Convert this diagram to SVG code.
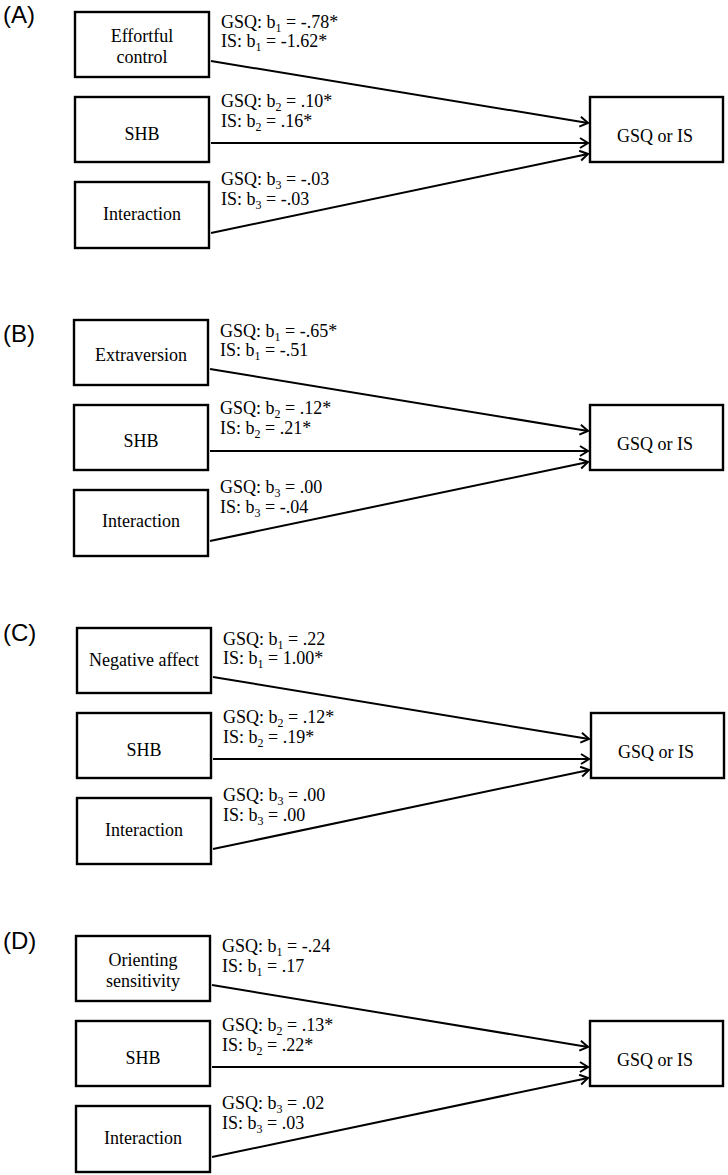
<svg xmlns="http://www.w3.org/2000/svg" width="728" height="1175" viewBox="0 0 728 1175">
<style>
.box{fill:#fff;stroke:#000;stroke-width:2.4}
.nt{font-family:"Liberation Serif","Times New Roman",serif;font-size:18px;fill:#000;text-anchor:middle}
.lb{font-family:"Liberation Serif","Times New Roman",serif;font-size:18px;fill:#000}
.sub{font-size:12px}
.pl{font-family:"Liberation Sans",Arial,sans-serif;font-size:24px;fill:#000}
.cn{stroke:#000;stroke-width:2;fill:none;marker-end:url(#ah)}
</style>
<defs>
<marker id="ah" markerUnits="userSpaceOnUse" markerWidth="14" markerHeight="14" refX="10" refY="6" orient="auto">
<path d="M2,1 L10,6 L2,11" fill="none" stroke="#000" stroke-width="2"/>
</marker>
</defs>
<rect width="728" height="1175" fill="#fff"/>

<!-- Panel labels -->
<text class="pl" x="3" y="23">(A)</text>
<text class="pl" x="3" y="342">(B)</text>
<text class="pl" x="3" y="641">(C)</text>
<text class="pl" x="3" y="949">(D)</text>

<!-- Connectors -->
<g id="connectors">
<line class="cn" x1="211" y1="61" x2="588" y2="123"/>
<line class="cn" x1="211" y1="143" x2="588" y2="143"/>
<line class="cn" x1="211" y1="233" x2="588" y2="154"/>
<line class="cn" x1="210" y1="369" x2="588" y2="431"/>
<line class="cn" x1="210" y1="451" x2="588" y2="451"/>
<line class="cn" x1="210" y1="541" x2="588" y2="462"/>
<line class="cn" x1="213" y1="677" x2="589" y2="739"/>
<line class="cn" x1="213" y1="759" x2="589" y2="759"/>
<line class="cn" x1="213" y1="849" x2="589" y2="770"/>
<line class="cn" x1="212" y1="985" x2="588" y2="1047"/>
<line class="cn" x1="212" y1="1067" x2="588" y2="1067"/>
<line class="cn" x1="212" y1="1157" x2="588" y2="1078"/>
</g>

<!-- Panel A -->
<g id="A-effortful">
<rect class="box" x="75" y="12" width="134" height="65"/>
<text class="nt" x="142" y="41.5">Effortful</text>
<text class="nt" x="142" y="63">control</text>
</g>
<g id="A-shb">
<rect class="box" x="75" y="97" width="134" height="65"/>
<text class="nt" x="142" y="140">SHB</text>
</g>
<g id="A-interaction">
<rect class="box" x="75" y="182" width="134" height="66"/>
<text class="nt" x="142" y="220">Interaction</text>
</g>
<g id="A-outcome">
<rect class="box" x="590" y="97" width="133" height="65"/>
<text class="nt" x="655" y="141.5">GSQ or IS</text>
</g>
<g id="A-labels">
<text class="lb"><tspan x="221" y="28">GSQ: b</tspan><tspan class="sub" dy="4">1</tspan><tspan dy="-4"> = -.78*</tspan><tspan x="221" y="47">IS: b</tspan><tspan class="sub" dy="4">1</tspan><tspan dy="-4"> = -1.62*</tspan></text>
<text class="lb"><tspan x="221" y="107">GSQ: b</tspan><tspan class="sub" dy="4">2</tspan><tspan dy="-4"> = .10*</tspan><tspan x="221" y="126.5">IS: b</tspan><tspan class="sub" dy="4">2</tspan><tspan dy="-4"> = .16*</tspan></text>
<text class="lb"><tspan x="221" y="185">GSQ: b</tspan><tspan class="sub" dy="4">3</tspan><tspan dy="-4"> = -.03</tspan><tspan x="221" y="205">IS: b</tspan><tspan class="sub" dy="4">3</tspan><tspan dy="-4"> = -.03</tspan></text>
</g>

<!-- Panel B -->
<g id="B-extraversion">
<rect class="box" x="74" y="320" width="134" height="65"/>
<text class="nt" x="141" y="360.5">Extraversion</text>
</g>
<g id="B-shb">
<rect class="box" x="74" y="405" width="134" height="65"/>
<text class="nt" x="141" y="447">SHB</text>
</g>
<g id="B-interaction">
<rect class="box" x="74" y="490" width="134" height="66"/>
<text class="nt" x="141" y="527">Interaction</text>
</g>
<g id="B-outcome">
<rect class="box" x="590" y="405" width="133" height="65"/>
<text class="nt" x="655" y="449.5">GSQ or IS</text>
</g>
<g id="B-labels">
<text class="lb"><tspan x="220" y="336.5">GSQ: b</tspan><tspan class="sub" dy="4">1</tspan><tspan dy="-4"> = -.65*</tspan><tspan x="220" y="356">IS: b</tspan><tspan class="sub" dy="4">1</tspan><tspan dy="-4"> = -.51</tspan></text>
<text class="lb"><tspan x="220" y="414">GSQ: b</tspan><tspan class="sub" dy="4">2</tspan><tspan dy="-4"> = .12*</tspan><tspan x="220" y="434">IS: b</tspan><tspan class="sub" dy="4">2</tspan><tspan dy="-4"> = .21*</tspan></text>
<text class="lb"><tspan x="220" y="493">GSQ: b</tspan><tspan class="sub" dy="4">3</tspan><tspan dy="-4"> = .00</tspan><tspan x="220" y="513">IS: b</tspan><tspan class="sub" dy="4">3</tspan><tspan dy="-4"> = -.04</tspan></text>
</g>

<!-- Panel C -->
<g id="C-negative">
<rect class="box" x="77" y="628" width="134" height="65"/>
<text class="nt" x="144" y="665.5">Negative affect</text>
</g>
<g id="C-shb">
<rect class="box" x="77" y="713" width="134" height="65"/>
<text class="nt" x="144" y="755.5">SHB</text>
</g>
<g id="C-interaction">
<rect class="box" x="77" y="798" width="134" height="66"/>
<text class="nt" x="144" y="835.5">Interaction</text>
</g>
<g id="C-outcome">
<rect class="box" x="591" y="713" width="133" height="65"/>
<text class="nt" x="656" y="757.5">GSQ or IS</text>
</g>
<g id="C-labels">
<text class="lb"><tspan x="223" y="644.5">GSQ: b</tspan><tspan class="sub" dy="4">1</tspan><tspan dy="-4"> = .22</tspan><tspan x="223" y="664">IS: b</tspan><tspan class="sub" dy="4">1</tspan><tspan dy="-4"> = 1.00*</tspan></text>
<text class="lb"><tspan x="223" y="722.5">GSQ: b</tspan><tspan class="sub" dy="4">2</tspan><tspan dy="-4"> = .12*</tspan><tspan x="223" y="742.5">IS: b</tspan><tspan class="sub" dy="4">2</tspan><tspan dy="-4"> = .19*</tspan></text>
<text class="lb"><tspan x="223" y="801">GSQ: b</tspan><tspan class="sub" dy="4">3</tspan><tspan dy="-4"> = .00</tspan><tspan x="223" y="821">IS: b</tspan><tspan class="sub" dy="4">3</tspan><tspan dy="-4"> = .00</tspan></text>
</g>

<!-- Panel D -->
<g id="D-orienting">
<rect class="box" x="76" y="936" width="134" height="65"/>
<text class="nt" x="143" y="965.5">Orienting</text>
<text class="nt" x="143" y="987">sensitivity</text>
</g>
<g id="D-shb">
<rect class="box" x="76" y="1021" width="134" height="65"/>
<text class="nt" x="143" y="1064">SHB</text>
</g>
<g id="D-interaction">
<rect class="box" x="76" y="1106" width="134" height="66"/>
<text class="nt" x="143" y="1144">Interaction</text>
</g>
<g id="D-outcome">
<rect class="box" x="590" y="1021" width="133" height="65"/>
<text class="nt" x="655" y="1065.5">GSQ or IS</text>
</g>
<g id="D-labels">
<text class="lb"><tspan x="222" y="952">GSQ: b</tspan><tspan class="sub" dy="4">1</tspan><tspan dy="-4"> = -.24</tspan><tspan x="222" y="971.5">IS: b</tspan><tspan class="sub" dy="4">1</tspan><tspan dy="-4"> = .17</tspan></text>
<text class="lb"><tspan x="222" y="1031">GSQ: b</tspan><tspan class="sub" dy="4">2</tspan><tspan dy="-4"> = .13*</tspan><tspan x="222" y="1050.5">IS: b</tspan><tspan class="sub" dy="4">2</tspan><tspan dy="-4"> = .22*</tspan></text>
<text class="lb"><tspan x="222" y="1109">GSQ: b</tspan><tspan class="sub" dy="4">3</tspan><tspan dy="-4"> = .02</tspan><tspan x="222" y="1129">IS: b</tspan><tspan class="sub" dy="4">3</tspan><tspan dy="-4"> = .03</tspan></text>
</g>
</svg>
